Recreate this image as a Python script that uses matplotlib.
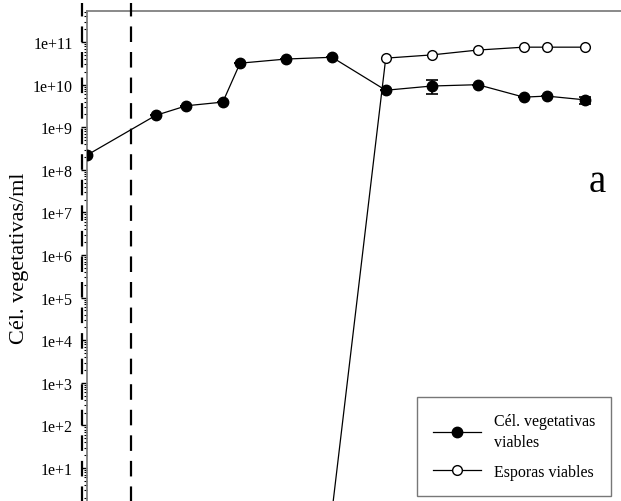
import numpy as np
import matplotlib
matplotlib.use('Agg')
import matplotlib.pyplot as plt
from matplotlib.lines import Line2D
from matplotlib.ticker import FixedLocator, LogLocator, FuncFormatter, NullFormatter

plt.rcParams['font.family'] = ['Liberation Serif', 'DejaVu Serif']

#data
#------------------
# time (h)
t_veg = [0, 36, 52, 71, 80, 104, 128, 156, 180, 204, 228, 240, 260]
veg = [2.2e8, 1.9e9, 3.2e9, 3.9e9, 3.2e10, 4.0e10, 4.4e10, 7.4e9, 9.3e9, 1.0e10, 5.1e9, 5.4e9, 4.4e9]
veg_err = [0, 0, 0, 0, 0, 0, 0, 0, 3.3e9, 0, 0, 0, 0.8e9]

t_spo = [128, 156, 180, 204, 228, 240, 260]
spo = [1.0, 4.2e10, 5.0e10, 6.5e10, 7.6e10, 7.6e10, 7.6e10]

t_marks = [-2.2, 23]
ytick_exp = np.arange(1, 12)

#plot
#------------------
fig = plt.figure(figsize=(6.21, 5.02), dpi=100)
W, H = 621, 502
x0, y_top, y_bot = 86.7, 12, 511.6
px_per_h = 1.917
xmax = 290
ax = fig.add_axes([x0/W, (H-y_bot)/H, xmax*px_per_h/W, (y_bot-y_top)/H])

ax.errorbar(t_veg, veg, yerr=veg_err, color='black', lw=0.9, marker='o', ms=7.5,
            mfc='black', mec='black', capsize=4, capthick=1.2, elinewidth=1.2,
            zorder=3)
ax.plot(t_spo, spo, color='black', lw=0.9, marker='o', ms=7, mfc='white',
        mec='black', mew=1.0, zorder=3)

for tm in t_marks:
    ax.axvline(tm, ymin=-0.05, ymax=1.016, color='black', lw=1.6,
               linestyle=(0, (7, 4.5)), clip_on=False, zorder=4)

ax.set_yscale('log')
ax.set_ylim(1, 10**11.73)
ax.set_xlim(0, xmax)

ax.yaxis.set_major_locator(FixedLocator(10.0**ytick_exp))
ax.yaxis.set_minor_locator(LogLocator(base=10, subs=np.arange(2, 10), numticks=20))
ax.yaxis.set_major_formatter(FuncFormatter(lambda v, p: '1e+%d' % int(round(np.log10(v)))))
ax.yaxis.set_minor_formatter(NullFormatter())
ax.tick_params(axis='y', which='major', length=4, width=1, labelsize=11.5, pad=6)
ax.tick_params(axis='y', which='minor', length=2.5, width=0.8)
ax.set_xticks([])

for s in ['left', 'top']:
    ax.spines[s].set_color('#808080')
    ax.spines[s].set_linewidth(1.3)
for s in ['right', 'bottom']:
    ax.spines[s].set_visible(False)

fig.text(20/W, 1-258/H, 'Cél. vegetativas/ml', rotation=90, fontsize=16,
         ha='center', va='center')
fig.text(597/W, 1-183/H, 'a', fontsize=28, ha='center', va='center')

handles = [Line2D([], [], color='black', lw=0.9, marker='o', ms=7.5, mfc='black', mec='black'),
           Line2D([], [], color='black', lw=0.9, marker='o', ms=7, mfc='white', mec='black')]
labels = ['Cél. vegetativas\nviables', 'Esporas viables']
leg = ax.legend(handles, labels, loc='lower right', bbox_to_anchor=(611/W, 5/H),
                bbox_transform=fig.transFigure, fontsize=11.5, frameon=True,
                fancybox=False, edgecolor='#555555', handlelength=3,
                borderpad=1.0, labelspacing=0.9, borderaxespad=0)
leg.get_frame().set_linewidth(1.0)
for txt in leg.get_texts():
    txt.set_linespacing(1.35)

fig.savefig('out.png', dpi=100)
